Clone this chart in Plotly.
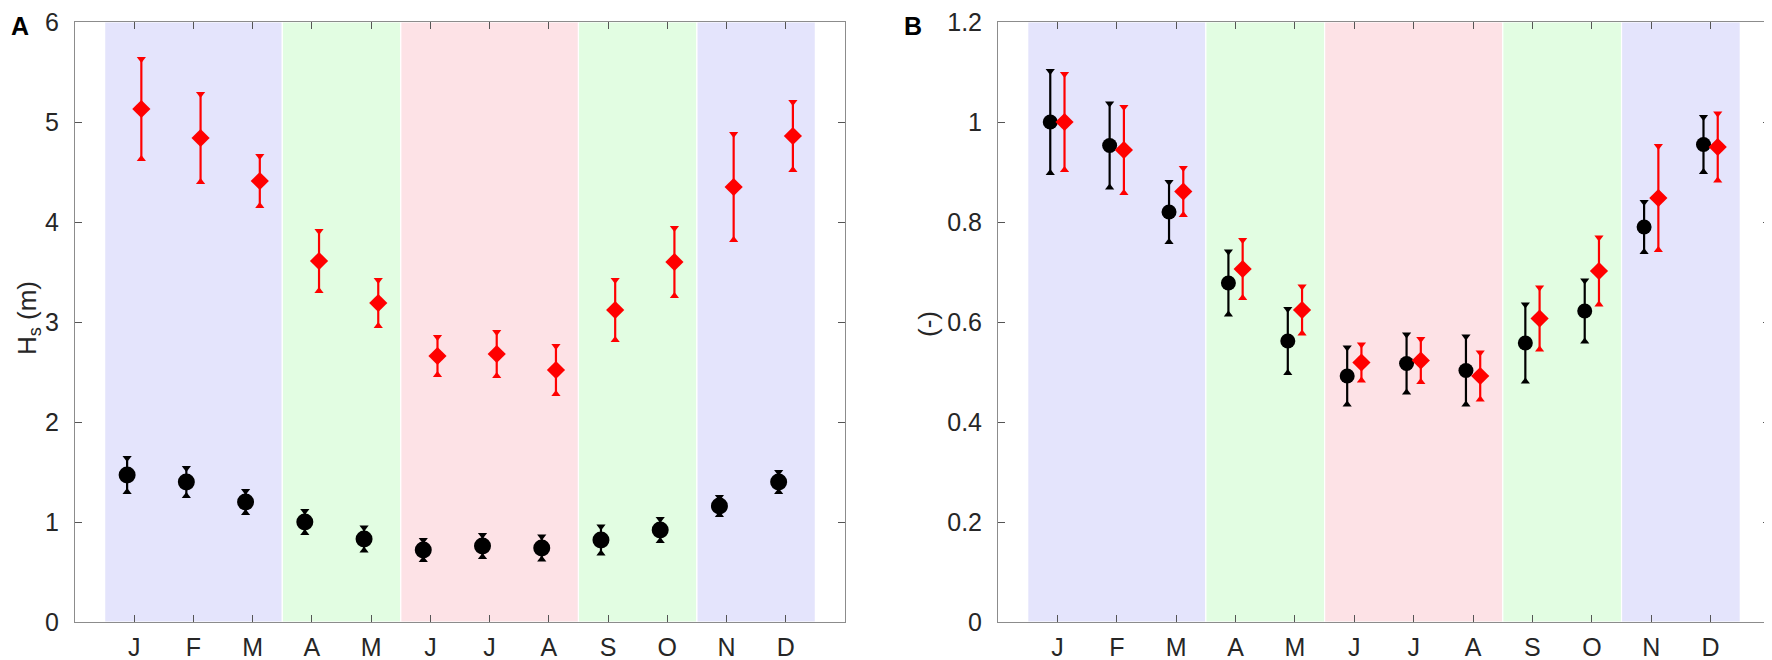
import numpy as np
import plotly.graph_objects as go

W, H = 1772, 660
SHIFT = 8  # the page body has an 8 px margin; draw everything 8 px up/left

months = ["J", "F", "M", "A", "M", "J", "J", "A", "S", "O", "N", "D"]
month_num = np.arange(1, 13)

# panel A: Hs (m)
hs_mean = [1.47, 1.40, 1.20, 1.00, 0.83, 0.72, 0.76, 0.74, 0.82, 0.92, 1.16, 1.40]
hs_mean_err = [0.17, 0.14, 0.11, 0.11, 0.115, 0.10, 0.11, 0.115, 0.135, 0.11, 0.09, 0.10]
hs_high = [5.13, 4.84, 4.41, 3.61, 3.19, 2.66, 2.68, 2.52, 3.12, 3.60, 4.35, 4.86]
hs_high_err = [0.50, 0.44, 0.25, 0.30, 0.23, 0.19, 0.22, 0.24, 0.30, 0.34, 0.53, 0.34]

# panel B: normalised (-)
nb_mean = [1.00, 0.953, 0.820, 0.678, 0.562, 0.492, 0.517, 0.503, 0.558, 0.622, 0.790, 0.955]
nb_mean_err = [0.102, 0.084, 0.060, 0.063, 0.064, 0.057, 0.058, 0.068, 0.077, 0.061, 0.050, 0.055]
nb_high = [1.00, 0.944, 0.861, 0.706, 0.624, 0.519, 0.523, 0.492, 0.607, 0.702, 0.848, 0.950]
nb_high_err = [0.096, 0.086, 0.047, 0.058, 0.047, 0.036, 0.043, 0.047, 0.062, 0.067, 0.104, 0.067]

# seasons (month boundaries) and shading colours
season_edges = [0.5, 3.5, 5.5, 8.5, 10.5, 12.5]
season_colors = ["#E4E4FC", "#E2FDE2", "#FDE2E6", "#E2FDE2", "#E4E4FC"]

FONT = "Liberation Sans, Arial, sans-serif"
OFF = 0.12
TOP, BOT = 14 - SHIFT, 622 - SHIFT


def add_series(fig, x, y, err, color, symbol, size, xa, ya):
    x = np.asarray(x, dtype=float)
    y = np.asarray(y)
    err = np.asarray(err)
    fig.add_trace(go.Scatter(
        x=x, y=y, mode="markers", xaxis=xa, yaxis=ya, showlegend=False,
        marker=dict(color=color, symbol=symbol, size=size, line_width=0),
        error_y=dict(type="data", array=err, color=color, thickness=2.2, width=0),
    ))
    # triangular caps at the whisker ends
    fig.add_trace(go.Scatter(
        x=x, y=y + err, mode="markers", xaxis=xa, yaxis=ya, showlegend=False,
        marker=dict(color=color, symbol="triangle-down", size=8, line_width=0),
    ))
    fig.add_trace(go.Scatter(
        x=x, y=y - err, mode="markers", xaxis=xa, yaxis=ya, showlegend=False,
        marker=dict(color=color, symbol="triangle-up", size=8, line_width=0),
    ))


fig = go.Figure()

add_series(fig, month_num - OFF, hs_mean, hs_mean_err, "black", "circle", 17, "x", "y")
add_series(fig, month_num + OFF, hs_high, hs_high_err, "#FF0000", "diamond", 14, "x", "y")
add_series(fig, month_num - OFF, nb_mean, nb_mean_err, "black", "circle", 15, "x2", "y2")
add_series(fig, month_num + OFF, nb_high, nb_high_err, "#FF0000", "diamond", 14, "x2", "y2")

shapes = []
for xr, yr in (("x", "y domain"), ("x2", "y2 domain")):
    for i, c in enumerate(season_colors):
        shapes.append(dict(type="rect", xref=xr, yref=yr,
                           x0=season_edges[i], x1=season_edges[i + 1], y0=0, y1=1,
                           fillcolor=c, line=dict(color="white", width=1.2),
                           layer="below"))

xcommon = dict(range=[0, 13], tickvals=list(month_num), ticktext=months,
               ticks="inside", ticklen=7, tickwidth=1, tickcolor="#555",
               showline=True, linecolor="#8c8c8c", linewidth=1, mirror="ticks",
               showgrid=False, zeroline=False, ticklabelstandoff=3,
               ticklabeloverflow="allow",
               tickfont=dict(family=FONT, size=25, color="#262626"))
ycommon = dict(ticks="inside", ticklen=7, tickwidth=1, tickcolor="#555",
               showline=True, linecolor="#8c8c8c", linewidth=1, mirror="ticks",
               showgrid=False, zeroline=False, ticklabelstandoff=10,
               ticklabeloverflow="allow",
               tickfont=dict(family=FONT, size=25, color="#262626"))


def px(v):
    return (v - SHIFT) / W


def py(v):
    return (BOT - (v - SHIFT)) / (BOT - TOP)


annotations = [
    dict(text="<b>A</b>", x=px(9), y=py(18), xref="paper", yref="paper",
         xanchor="left", yanchor="middle", showarrow=False,
         font=dict(family=FONT, size=25, color="black")),
    dict(text="<b>B</b>", x=px(902), y=py(18), xref="paper", yref="paper",
         xanchor="left", yanchor="middle", showarrow=False,
         font=dict(family=FONT, size=25, color="black")),
    dict(text="H<sub>s</sub> (m)", x=px(28), y=py(314), xref="paper", yref="paper",
         xanchor="center", yanchor="middle", showarrow=False, textangle=-90,
         font=dict(family=FONT, size=26, color="#262626")),
    dict(text="(-)", x=px(928), y=py(320), xref="paper", yref="paper",
         xanchor="center", yanchor="middle", showarrow=False, textangle=-90,
         font=dict(family=FONT, size=26, color="#262626")),
]

fig.update_layout(
    width=W, height=H,
    margin=dict(l=0, r=0, t=TOP, b=H - BOT),
    paper_bgcolor="white", plot_bgcolor="white",
    showlegend=False,
    shapes=shapes,
    annotations=annotations,
    xaxis=dict(domain=[px(75), px(845)], anchor="y", **xcommon),
    yaxis=dict(domain=[0, 1], anchor="x", range=[0, 6], dtick=1, **ycommon),
    xaxis2=dict(domain=[px(998), px(1770)], anchor="y2", **xcommon),
    yaxis2=dict(domain=[0, 1], anchor="x2", range=[0, 1.2],
                tickvals=[0, 0.2, 0.4, 0.6, 0.8, 1, 1.2],
                ticktext=["0", "0.2", "0.4", "0.6", "0.8", "1", "1.2"], **ycommon),
)

fig.write_html("out.html")
